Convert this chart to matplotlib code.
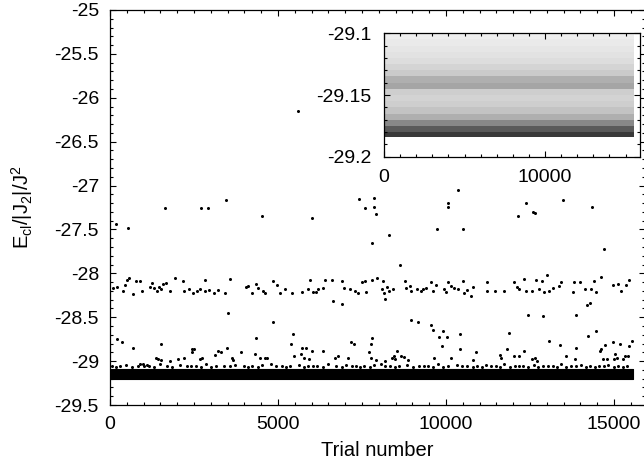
import numpy as np
import matplotlib
matplotlib.use('Agg')
import matplotlib.pyplot as plt
from matplotlib.ticker import MultipleLocator, FuncFormatter

plt.rcParams['font.family'] = ['Liberation Sans', 'DejaVu Sans']
plt.rcParams['mathtext.fontset'] = 'custom'
plt.rcParams['mathtext.rm'] = 'Liberation Sans'
plt.rcParams['mathtext.it'] = 'Liberation Sans'
plt.rcParams['axes.unicode_minus'] = False

# isolated high-energy trials
high_x = [182, 547, 1642, 2696, 2929, 3446, 4511, 5586, 6000, 7420, 7582, 7845, 7845,
          7916, 7805, 8301, 9731, 10065, 10065, 10369, 10511, 12133, 12386, 12579,
          12650, 13471, 14353, 14707]
high_y = [-27.44, -27.48, -27.25, -27.26, -27.26, -27.16, -27.35, -26.15, -27.37, -27.15,
          -27.26, -27.14, -27.24, -27.32, -27.66, -27.56, -27.49, -27.20, -27.24, -27.05,
          -27.49, -27.35, -27.20, -27.30, -27.31, -27.16, -27.24, -27.72]

# trials trapped near -28.15
mid_x = [81, 223, 385, 456, 507, 557, 689, 760, 892, 963, 1196, 1237, 1297, 1399, 1449,
         1520, 1571, 1672, 1774, 1926, 2179, 2210, 2352, 2483, 2585, 2686, 2818, 2838,
         2939, 3091, 3223, 3426, 3568, 4034, 4105, 4237, 4338, 4409, 4541, 4612, 4845,
         4967, 5048, 5220, 5423, 5727, 5879, 5960, 6031, 6132, 6203, 6335, 6406, 6609,
         6639, 6892, 6892, 6974, 7146, 7278, 7379, 7501, 7582, 7622, 7784, 7957, 8089,
         8109, 8159, 8190, 8230, 8312, 8433, 8636, 8768, 8798, 8920, 8970, 9122, 9244,
         9305, 9406, 9548, 9609, 9710, 9933, 9984, 10055, 10136, 10237, 10359, 10491,
         10541, 10622, 10744, 10795, 11231, 11231, 11454, 11737, 12011, 12113, 12163,
         12315, 12386, 12548, 12670, 12751, 12852, 12923, 12994, 13075, 13177, 13359,
         13430, 13765, 13805, 13988, 14140, 14190, 14271, 14312, 14413, 14474, 14616,
         14981, 15103, 15204, 15356, 15457]
mid_y = [-28.17, -28.15, -28.20, -28.13, -28.08, -28.05, -28.23, -28.09, -28.09, -28.20,
         -28.16, -28.11, -28.17, -28.20, -28.16, -28.18, -28.12, -28.11, -28.20, -28.05,
         -28.09, -28.20, -28.18, -28.22, -28.20, -28.18, -28.08, -28.20, -28.19, -28.22,
         -28.19, -28.22, -28.06, -28.16, -28.14, -28.22, -28.12, -28.17, -28.20, -28.22,
         -28.09, -28.13, -28.22, -28.18, -28.22, -28.21, -28.18, -28.08, -28.21, -28.21,
         -28.18, -28.17, -28.08, -28.08, -28.31, -28.09, -28.35, -28.17, -28.18, -28.20,
         -28.22, -28.10, -28.09, -28.21, -28.08, -28.05, -28.18, -28.09, -28.22, -28.29,
         -28.16, -28.20, -28.18, -27.91, -28.09, -28.17, -28.14, -28.20, -28.18, -28.20,
         -28.18, -28.17, -28.10, -28.20, -28.13, -28.18, -28.21, -28.10, -28.14, -28.17,
         -28.18, -28.09, -28.22, -28.19, -28.26, -28.16, -28.10, -28.20, -28.20, -28.20,
         -28.10, -28.15, -28.18, -28.06, -28.20, -28.20, -28.08, -28.18, -28.09, -28.21,
         -28.02, -28.20, -28.17, -28.14, -28.10, -28.21, -28.10, -28.10, -28.18, -28.36,
         -28.34, -28.18, -28.09, -28.21, -28.04, -28.13, -28.12, -28.20, -28.13, -28.08]

# trials between the two groups and above the ground-state band
low_x = [3497, 4865, 8950, 9173, 9548, 9609, 9781, 9913, 10014, 9883, 10420, 10420, 12447,
         12873, 13866, 14211, 14474, 11879, 13055, 13400, 15520, 14981, 15184, 15457,
         14717, 14596, 14576, 5443, 5372, 4358, 7805, 7754, 7176, 7247, 223, 355, 689,
         1520, 13866, 11808, 10896, 12315, 12163, 12011, 11606, 11636, 2433, 2514, 2453,
         3223, 3294, 3122, 3467, 3902, 4308, 4460, 4612, 4683, 3629, 3649, 5727, 5828,
         6000, 6335, 5676, 5778, 5473, 5930, 7703, 7754, 7906, 8535, 8464, 8666, 8737,
         8869, 8382, 8494, 8190, 6791, 6690, 7095, 9629, 10136, 10795, 12569, 12650,
         12720, 13582, 13836, 14677, 14799, 15022, 15082, 15326, 15407, 15255, 15001,
         2027, 2210, 2666, 2737, 1368, 1419, 1520, 1774, 892, 993, 1115]
low_y = [-28.45, -28.55, -28.53, -28.56, -28.59, -28.64, -28.73, -28.66, -28.73, -28.83,
         -28.69, -28.86, -28.47, -28.49, -28.47, -28.71, -28.66, -28.68, -28.77, -28.82,
         -28.77, -28.78, -28.81, -28.83, -28.82, -28.86, -28.88, -28.69, -28.81, -28.74,
         -28.74, -28.81, -28.78, -28.81, -28.75, -28.78, -28.85, -28.80, -28.85, -28.86,
         -28.90, -28.88, -28.94, -28.94, -28.93, -28.97, -28.86, -28.86, -28.90, -28.88,
         -28.90, -28.93, -28.85, -28.90, -28.92, -28.97, -28.97, -28.97, -28.96, -28.99,
         -28.85, -28.85, -28.88, -28.88, -28.92, -28.97, -28.94, -28.98, -28.90, -28.96,
         -28.99, -28.89, -28.94, -28.94, -28.95, -28.99, -28.97, -28.98, -29.00, -28.94,
         -28.97, -28.97, -28.96, -28.96, -28.99, -28.98, -28.96, -29.00, -28.94, -28.98,
         -28.98, -28.98, -28.92, -28.96, -28.94, -28.94, -28.98, -28.98, -28.98, -28.97,
         -28.98, -28.96, -28.96, -28.98, -28.99, -29.00, -29.03, -29.03, -29.04]

# ragged upper edge of the ground-state band
edge_x = [60, 310, 470, 820, 1150, 1480, 1690, 2080, 2290, 2560, 2870, 3150, 3380, 3720,
          3990, 4230, 4520, 4780, 5110, 5350, 5610, 5890, 6170, 6480, 6730, 7020, 7310,
          7560, 7870, 8060, 8330, 8610, 8840, 9190, 9460, 9770, 10050, 10330, 10610,
          10930, 11190, 11480, 11720, 12060, 12280, 12610, 12890, 13170, 13420, 13710,
          14020, 14280, 14560, 14830, 15120, 15390,
          190, 640, 1010, 1320, 1850, 2420, 2710, 3020, 3560, 4110, 4390, 4930, 5240,
          5760, 6040, 6350, 6900, 7190, 7440, 7740, 8190, 8470, 9020, 9330, 9620, 9910,
          10460, 10790, 11060, 11330, 11600, 11890, 12170, 12450, 12750, 13030, 13290,
          13560, 13870, 14150, 14420, 14700, 14990, 15260]
edge_y = [-29.05, -29.06, -29.04, -29.06, -29.05, -29.03, -29.06, -29.04, -29.05, -29.06,
          -29.03, -29.05, -29.06, -29.04, -29.05, -29.06, -29.04, -29.03, -29.06, -29.05,
          -29.04, -29.06, -29.05, -29.03, -29.06, -29.04, -29.05, -29.06, -29.04, -29.03,
          -29.05, -29.06, -29.04, -29.05, -29.06, -29.03, -29.05, -29.04, -29.06, -29.05,
          -29.04, -29.06, -29.03, -29.05, -29.06, -29.04, -29.05, -29.06, -29.03, -29.05,
          -29.04, -29.06, -29.05, -29.04, -29.06, -29.05,
          -29.07, -29.07, -29.06, -29.07, -29.07, -29.06, -29.07, -29.07, -29.06, -29.07,
          -29.07, -29.06, -29.07, -29.07, -29.06, -29.07, -29.07, -29.06, -29.07, -29.07,
          -29.06, -29.07, -29.07, -29.06, -29.07, -29.07, -29.06, -29.07, -29.07, -29.06,
          -29.07, -29.07, -29.06, -29.07, -29.07, -29.06, -29.07, -29.07, -29.06, -29.07,
          -29.07, -29.06, -29.07, -29.07]

# dense ground-state band (main panel)
band_x = [0, 15550]
band_lo = -29.20
band_hi = -29.085

# inset: share of covered area per energy slice, read from the stipple
inset_x = [0, 15500]
inset_edges = [-29.184, -29.180, -29.175, -29.170, -29.165, -29.160, -29.155, -29.150,
               -29.145, -29.140, -29.135, -29.130, -29.125, -29.120, -29.115, -29.110,
               -29.105, -29.100]
inset_density = [0.82, 0.72, 0.55, 0.42, 0.35, 0.3, 0.28, 0.3, 0.45, 0.42, 0.32, 0.27,
                 0.23, 0.2, 0.18, 0.16, 0.14]


def fmt(v, p):
    return f'{v:g}'


fig = plt.figure(figsize=(6.44, 4.68), dpi=100)
ax = fig.add_axes([110 / 644, 1 - 405 / 468, 535 / 644, 395 / 468])

ax.fill_between(band_x, band_lo, band_hi, color='black', linewidth=0.8)
for xs, ys in [(high_x, high_y), (mid_x, mid_y), (low_x, low_y), (edge_x, edge_y)]:
    ax.plot(xs, ys, 'o', color='black', markersize=2.2, markeredgewidth=0)

ax.set_xlim(0, 15920)
ax.set_ylim(-29.5, -25)
ax.xaxis.set_major_locator(MultipleLocator(5000))
ax.xaxis.set_minor_locator(MultipleLocator(500))
ax.yaxis.set_major_locator(MultipleLocator(0.5))
ax.yaxis.set_minor_locator(MultipleLocator(0.1))
ax.yaxis.set_major_formatter(FuncFormatter(fmt))
ax.tick_params(which='both', direction='in', top=True, right=True, labelsize=14, width=0.8)
ax.tick_params(which='major', length=4, pad=8)
ax.tick_params(which='minor', length=2)
for s in ax.spines.values():
    s.set_linewidth(0.9)

ax.set_xlabel('Trial number', fontsize=14.5)
ax.xaxis.set_label_coords(0.5, -0.114)
ax.xaxis.label.set_va('center')
ax.set_ylabel(r'$\mathregular{E_{cl}/|J_2|/J^2}$', fontsize=14.5)
ax.yaxis.set_label_coords(-0.1645, 0.5)
ax.yaxis.label.set_va('center')

# inset zoom on the lowest band
ins = fig.add_axes([384 / 644, 1 - 156.7 / 468, 256 / 644, 123.4 / 468])
ins.pcolormesh(inset_x, inset_edges, np.array(inset_density).reshape(-1, 1),
               cmap='Greys', vmin=0, vmax=1, shading='flat')
ins.set_xlim(0, 15900)
ins.set_ylim(-29.2, -29.1)
ins.set_xticks([0, 10000])
ins.set_yticks([-29.2, -29.15, -29.1])
ins.xaxis.set_minor_locator(MultipleLocator(1000))
ins.yaxis.set_minor_locator(MultipleLocator(0.01))
ins.yaxis.set_major_formatter(FuncFormatter(fmt))
ins.tick_params(which='both', direction='in', top=True, right=True, labelsize=14, width=0.8)
ins.tick_params(which='major', length=4, pad=9)
ins.tick_params(which='minor', length=2)
for s in ins.spines.values():
    s.set_linewidth(0.9)

fig.savefig('out.png', dpi=100)
